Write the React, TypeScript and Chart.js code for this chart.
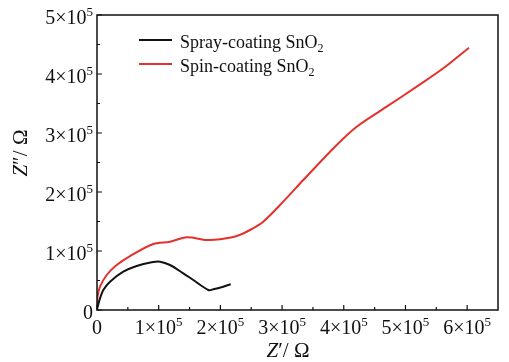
import { useEffect, useRef } from 'react';
import { Chart, registerables } from 'chart.js';
Chart.register(...registerables);

const sprayX = [0, 500, 4900, 10200, 21100, 42600, 64300, 88700, 102100, 118300, 139900, 156100, 180400, 188500, 204700, 216700];
const sprayY = [0, 3400, 19800, 33900, 48000, 64900, 74600, 80800, 81900, 76300, 62200, 50800, 33900, 35100, 39500, 43600];
const spinX = [0, 800, 4900, 15700, 31900, 53500, 91200, 118300, 145400, 177800, 199400, 226400, 248000, 269500, 301900, 334400, 385700, 420900, 469500, 518200, 561300, 602900];
const spinY = [0, 22500, 39500, 59300, 76300, 91500, 111900, 115800, 123200, 118600, 119800, 125400, 135600, 149700, 183600, 220300, 276800, 310700, 344600, 378500, 409700, 444600];
const seriesNames = ['Spray-coating SnO', 'Spin-coating SnO'];
const seriesColors = ['#111111', '#e4312b'];
const xMajorTicks = [0, 100000, 200000, 300000, 400000, 500000, 600000];
const yMajorTicks = [0, 100000, 200000, 300000, 400000, 500000];
const xMinorTicks = [50000, 150000, 250000, 350000, 450000, 550000];
const yMinorTicks = [50000, 150000, 250000, 350000, 450000];

const FONT = '"Liberation Serif", "Times New Roman", serif';

function sciParts(v: number) {
  if (v === 0) return { main: '0', sup: '' };
  const e = Math.floor(Math.log10(v) + 1e-9);
  const m = Math.round(v / Math.pow(10, e));
  return { main: m + '\u00d710', sup: String(e) };
}

function drawSci(ctx: CanvasRenderingContext2D, v: number, x: number, y: number, align: 'right' | 'center') {
  const { main, sup } = sciParts(v);
  ctx.font = '20px ' + FONT;
  const wm = ctx.measureText(main).width;
  ctx.font = '13px ' + FONT;
  const ws = sup ? ctx.measureText(sup).width : 0;
  const total = wm + ws;
  const sx = align === 'right' ? x - total : x - total / 2;
  ctx.textAlign = 'left';
  ctx.textBaseline = 'alphabetic';
  ctx.fillStyle = '#111';
  ctx.font = '20px ' + FONT;
  ctx.fillText(main, sx, y);
  if (sup) {
    ctx.font = '13px ' + FONT;
    ctx.fillText(sup, sx + wm, y - 8);
  }
}

const decor = {
  id: 'decor',
  afterDraw(chart: any) {
    const ctx: CanvasRenderingContext2D = chart.ctx;
    const { left, right, top, bottom } = chart.chartArea;
    const xs = chart.scales.x;
    const ys = chart.scales.y;
    ctx.save();
    ctx.strokeStyle = '#111';
    ctx.lineWidth = 1.5;
    ctx.strokeRect(left, top, right - left, bottom - top);
    ctx.lineWidth = 1.2;
    ctx.beginPath();
    for (const v of xMajorTicks) {
      const px = xs.getPixelForValue(v);
      ctx.moveTo(px, bottom); ctx.lineTo(px, bottom - 5);
    }
    for (const v of xMinorTicks) {
      const px = xs.getPixelForValue(v);
      ctx.moveTo(px, bottom); ctx.lineTo(px, bottom - 3);
    }
    for (const v of yMajorTicks) {
      const py = ys.getPixelForValue(v);
      ctx.moveTo(left, py); ctx.lineTo(left + 5, py);
    }
    for (const v of yMinorTicks) {
      const py = ys.getPixelForValue(v);
      ctx.moveTo(left, py); ctx.lineTo(left + 3, py);
    }
    ctx.stroke();

    for (const v of xMajorTicks) drawSci(ctx, v, xs.getPixelForValue(v), bottom + 24, 'center');
    for (const v of yMajorTicks) drawSci(ctx, v, left - 4, ys.getPixelForValue(v) + 9, 'right');

    // axis titles
    const drawTitle = (prime: string, cx: number, cy: number) => {
      ctx.font = 'italic 21px ' + FONT;
      const wz = ctx.measureText('Z').width;
      ctx.font = '21px ' + FONT;
      const rest = prime + '/ \u03a9';
      const wr = ctx.measureText(rest).width;
      const sx = cx - (wz + wr) / 2;
      ctx.fillStyle = '#111';
      ctx.textBaseline = 'alphabetic';
      ctx.textAlign = 'left';
      ctx.font = 'italic 21px ' + FONT;
      ctx.fillText('Z', sx, cy);
      ctx.font = '21px ' + FONT;
      ctx.fillText(rest, sx + wz, cy);
    };
    drawTitle('\u2032', 288, 357);
    ctx.save();
    ctx.translate(27, 153);
    ctx.rotate(-Math.PI / 2);
    drawTitle('\u2033', 0, 0);
    ctx.restore();

    // legend
    const legY = [40, 64];
    for (let i = 0; i < seriesNames.length; i++) {
      const y = legY[i];
      ctx.strokeStyle = seriesColors[i];
      ctx.lineWidth = 2;
      ctx.beginPath();
      ctx.moveTo(139, y); ctx.lineTo(172, y);
      ctx.stroke();
      ctx.fillStyle = '#111';
      ctx.textAlign = 'left';
      ctx.textBaseline = 'alphabetic';
      ctx.font = '18px ' + FONT;
      ctx.fillText(seriesNames[i], 180, y + 8);
      const w = ctx.measureText(seriesNames[i]).width;
      ctx.font = '12px ' + FONT;
      ctx.fillText('2', 180 + w, y + 12);
    }
    ctx.restore();
  },
};

export default function App() {
  const ref = useRef<HTMLCanvasElement>(null);
  useEffect(() => {
    document.body.style.margin = '0';
    const toPts = (xs: number[], ys: number[]) => xs.map((x, i) => ({ x, y: ys[i] }));
    const chart = new Chart(ref.current!, {
      type: 'scatter',
      data: {
        datasets: [
          { label: seriesNames[0], data: toPts(sprayX, sprayY), showLine: true, borderColor: seriesColors[0], borderWidth: 2, pointRadius: 0, tension: 0.3 },
          { label: seriesNames[1], data: toPts(spinX, spinY), showLine: true, borderColor: seriesColors[1], borderWidth: 2, pointRadius: 0, tension: 0.3 },
        ],
      },
      options: {
        animation: false,
        responsive: false,
        layout: { padding: { top: 15, right: 11, left: 0, bottom: 0 } },
        plugins: { legend: { display: false }, tooltip: { enabled: false } },
        scales: {
          x: {
            type: 'linear', min: 0, max: 650000,
            grid: { display: false }, border: { display: false },
            ticks: { display: false },
            afterFit: (s: any) => { s.height = 52; },
          },
          y: {
            type: 'linear', min: 0, max: 500000,
            grid: { display: false }, border: { display: false },
            ticks: { display: false },
            afterFit: (s: any) => { s.width = 97; },
          },
        },
      },
      plugins: [decor],
    });
    return () => chart.destroy();
  }, []);
  return (
    <div style={{ position: 'absolute', left: 0, top: 0, width: 509, height: 362, background: '#fff' }}>
      <canvas ref={ref} width={509} height={362} style={{ width: 509, height: 362, display: 'block' }} />
    </div>
  );
}
